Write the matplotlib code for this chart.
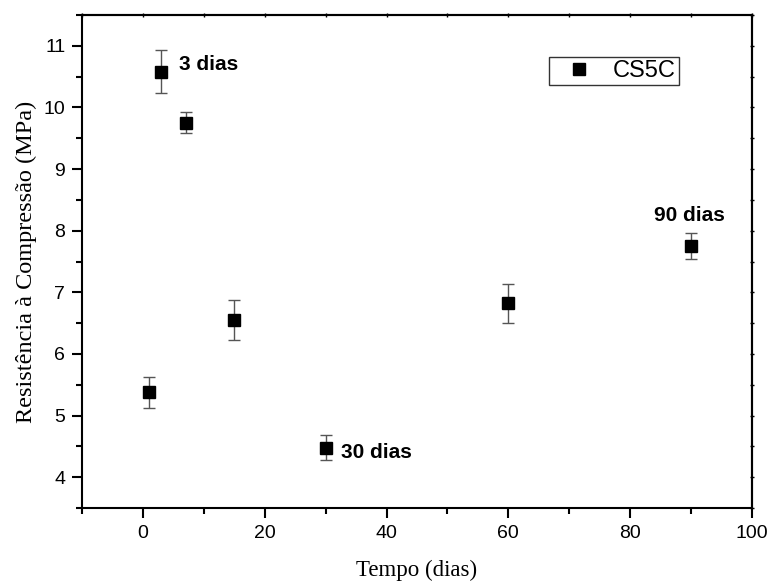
import matplotlib
matplotlib.use("Agg")
import matplotlib.pyplot as plt
from matplotlib.lines import Line2D
from matplotlib.ticker import MultipleLocator

# Compressive strength of CS5C over curing time
tempo = [1, 3, 7, 15, 30, 60, 90]
resistencia = [5.38, 10.58, 9.75, 6.55, 4.48, 6.82, 7.75]
erro = [0.25, 0.35, 0.17, 0.32, 0.20, 0.31, 0.21]

rotulos = ["3 dias", "30 dias", "90 dias"]
rotulos_pos = [(6.0, 10.7), (32.5, 4.4), (89.8, 8.25)]
rotulos_ha = ["left", "left", "center"]

sans = ["Liberation Sans", "DejaVu Sans"]
serif = ["Liberation Serif", "DejaVu Serif"]

fig = plt.figure(figsize=(7.7, 5.83), dpi=100)
ax = fig.add_axes([0.1065, 0.1286, 0.8701, 0.8457])

ax.errorbar(tempo, resistencia, yerr=erro, fmt="s", color="black",
            markersize=8.5, ecolor="#555555", elinewidth=1.0, capsize=4,
            capthick=1.0)

for txt, (px, py), ha in zip(rotulos, rotulos_pos, rotulos_ha):
    ax.text(px, py, txt, ha=ha, va="center", fontsize=15,
            fontweight="bold", family=sans)

ax.set_xlim(-10, 100)
ax.set_ylim(3.5, 11.5)
ax.xaxis.set_major_locator(MultipleLocator(20))
ax.xaxis.set_minor_locator(MultipleLocator(10))
ax.yaxis.set_major_locator(MultipleLocator(1))
ax.yaxis.set_minor_locator(MultipleLocator(0.5))

for s in ax.spines.values():
    s.set_linewidth(1.5)

ax.tick_params(which="major", direction="out", length=7, width=1.5,
               labelsize=14, pad=5)
ax.tick_params(which="minor", direction="out", length=4, width=1.5)
for lab in ax.get_xticklabels() + ax.get_yticklabels():
    lab.set_family(sans)

# small marks along the top and right spines
top = ax.secondary_xaxis("top")
right = ax.secondary_yaxis("right")
top.xaxis.set_major_locator(MultipleLocator(10))
right.yaxis.set_major_locator(MultipleLocator(0.5))
top.tick_params(direction="inout", length=3, width=1.0, labeltop=False)
right.tick_params(direction="inout", length=3, width=1.0, labelright=False)
for sec in (top, right):
    for s in sec.spines.values():
        s.set_linewidth(1.5)

ax.set_xlabel("Tempo (dias)", fontsize=16.5, family=serif, labelpad=13)
ax.set_ylabel("Resistência à Compressão (MPa)", fontsize=17.5, family=serif,
              labelpad=5)

handle = Line2D([], [], marker="s", linestyle="none", color="black",
                markersize=8.5)
leg = ax.legend([handle], ["CS5C"], loc="upper left",
                bbox_to_anchor=(0.697, 0.9148), frameon=True, fancybox=False,
                edgecolor="black", prop={"family": sans, "size": 17},
                handletextpad=0.3, borderpad=0.13, handlelength=2.29,
                borderaxespad=0)
leg.get_frame().set_linewidth(1.0)

fig.savefig("out.png", dpi=100)
